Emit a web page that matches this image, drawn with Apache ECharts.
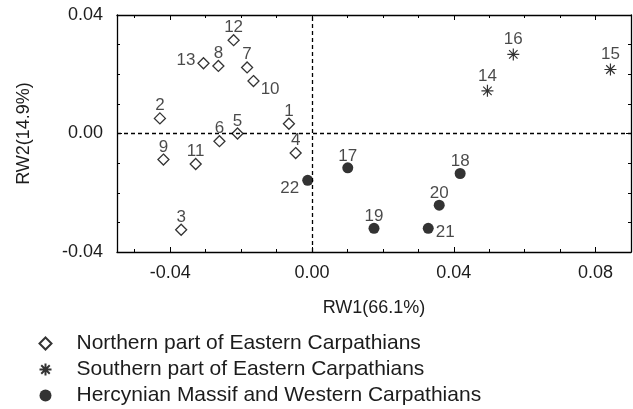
<!DOCTYPE html>
<html>
<head>
<meta charset="utf-8">
<script src="https://cdn.jsdelivr.net/npm/echarts@6/dist/echarts.min.js"></script>
<style>
  html, body { margin: 0; padding: 0; background: #fff; }
  #chart { width: 633px; height: 409px; }
</style>
</head>
<body>
<div id="chart"></div>
<script>
// Relative-warp scores (RW1 vs RW2) per population
const northNames = ['1','2','3','4','5','6','7','8','9','10','11','12','13'];
const northRW1 = [-0.0065, -0.0429, -0.0369, -0.0046, -0.0210, -0.0261, -0.0183, -0.0264, -0.0419, -0.0165, -0.0328, -0.0221, -0.0306];
const northRW2 = [0.0033, 0.0051, -0.0325, -0.0066, 0.0000, -0.0026, 0.0223, 0.0228, -0.0088, 0.0177, -0.0103, 0.0315, 0.0237];

const southNames = ['14','15','16'];
const southRW1 = [0.0495, 0.0842, 0.0568];
const southRW2 = [0.0144, 0.0216, 0.0267];

const hercNames = ['17','18','19','20','21','22'];
const hercRW1 = [0.0101, 0.0418, 0.0175, 0.0359, 0.0328, -0.0012];
const hercRW2 = [-0.0116, -0.0135, -0.0320, -0.0242, -0.0320, -0.0158];

const groupNames = [
  'Northern part of Eastern Carpathians',
  'Southern part of Eastern Carpathians',
  'Hercynian Massif and Western Carpathians'
];

// Axis ticks
const xMajor = [-0.04, 0.00, 0.04, 0.08];
const xMinor = [-0.05, -0.04, -0.03, -0.02, -0.01, 0.00, 0.01, 0.02, 0.03, 0.04, 0.05, 0.06, 0.07, 0.08, 0.09];
const yMajor = [-0.04, 0.00, 0.04];
const yMinor = [-0.04, -0.03, -0.02, -0.01, 0.00, 0.01, 0.02, 0.03, 0.04];

// Point-label placement (default: just above the marker)
const labelPlacement = {
  '13': { position: 'left', distance: 2, offset: [0, -3] },
  '10': { position: 'right', distance: 1, offset: [0, 8] },
  '22': { position: 'left', distance: 3, offset: [0, 8] },
  '21': { position: 'right', distance: 2, offset: [0, 4] }
};

const FONT = 'Liberation Sans, Arial, sans-serif';
const INK = '#1c1c1c';

function points(names, xs, ys) {
  return names.map((n, i) => {
    const item = { name: n, value: [xs[i], ys[i]] };
    if (labelPlacement[n]) item.label = labelPlacement[n];
    return item;
  });
}

const asterisk = 'path://M0,-10 L0,10 M-10,0 L10,0 M-7.07,-7.07 L7.07,7.07 M-7.07,7.07 L7.07,-7.07';

const X_MIN = -0.055, X_MAX = 0.09, Y_MIN = -0.04, Y_MAX = 0.04;

function xAxisDef(pos, ticks, len, withLabels, withLine) {
  return {
    type: 'value', position: pos, min: X_MIN, max: X_MAX,
    axisLine: { show: withLine, onZero: false, lineStyle: { color: '#000', width: 1.3 } },
    axisTick: { show: true, inside: true, length: len, customValues: ticks, lineStyle: { color: '#000', width: 1 } },
    axisLabel: withLabels ? {
      show: true, customValues: xMajor, margin: 12,
      formatter: v => v.toFixed(2), fontFamily: FONT, fontSize: 18, color: INK
    } : { show: false },
    splitLine: { show: false }
  };
}
function yAxisDef(pos, ticks, len, withLabels, withLine) {
  return {
    type: 'value', position: pos, min: Y_MIN, max: Y_MAX,
    axisLine: { show: withLine, onZero: false, lineStyle: { color: '#000', width: 1.3 } },
    axisTick: { show: true, inside: true, length: len, customValues: ticks, lineStyle: { color: '#000', width: 1 } },
    axisLabel: withLabels ? {
      show: true, customValues: yMajor, margin: 14,
      formatter: v => v.toFixed(2), fontFamily: FONT, fontSize: 18, color: INK
    } : { show: false },
    splitLine: { show: false }
  };
}

const xAxes = [
  xAxisDef('bottom', xMajor, 5, true, true),
  xAxisDef('bottom', xMinor, 3, false, false),
  xAxisDef('top', xMajor, 5, false, true),
  xAxisDef('top', xMinor, 3, false, false)
];
xAxes[0].name = 'RW1(66.1%)';
xAxes[0].nameLocation = 'middle';
xAxes[0].nameGap = 47;
xAxes[0].nameTextStyle = { fontFamily: FONT, fontSize: 18, color: INK };

const yAxes = [
  yAxisDef('left', yMajor, 5, true, true),
  yAxisDef('left', yMinor, 3, false, false),
  yAxisDef('right', yMajor, 5, false, true),
  yAxisDef('right', yMinor, 3, false, false)
];
yAxes[0].name = 'RW2(14.9%)';
yAxes[0].nameLocation = 'middle';
yAxes[0].nameGap = 84;
yAxes[0].nameTextStyle = { fontFamily: FONT, fontSize: 18, color: INK };

const pointLabel = {
  show: true, position: 'top', distance: -2,
  formatter: p => p.name, fontFamily: FONT, fontSize: 17, color: INK
};

const option = {
  animation: false,
  backgroundColor: '#fff',
  grid: { left: 117, right: 2, top: 15, bottom: 157, containLabel: false },
  xAxis: xAxes,
  yAxis: yAxes,
  legend: {
    orient: 'vertical', left: 37, top: 333, padding: 0,
    itemWidth: 12, itemHeight: 12, itemGap: 5,
    textStyle: { fontFamily: FONT, fontSize: 21, color: INK, lineHeight: 20, padding: [0, 0, 0, 20] },
    data: groupNames
  },
  series: [
    {
      name: groupNames[0], type: 'scatter', xAxisIndex: 0, yAxisIndex: 0,
      symbol: 'diamond', symbolSize: 11,
      itemStyle: { color: '#fff', borderColor: '#000', borderWidth: 1.3 },
      label: pointLabel,
      data: points(northNames, northRW1, northRW2),
      markLine: {
        silent: true, symbol: 'none', animation: false,
        label: { show: false },
        lineStyle: { color: '#000', type: [4, 3], width: 1.3 },
        data: [{ xAxis: 0 }, { yAxis: 0 }]
      },
      z: 3
    },
    {
      name: groupNames[1], type: 'scatter', xAxisIndex: 0, yAxisIndex: 0,
      symbol: asterisk, symbolSize: 12,
      itemStyle: { color: 'none', borderColor: '#000', borderWidth: 1.2 },
      label: pointLabel,
      data: points(southNames, southRW1, southRW2),
      z: 3
    },
    {
      name: groupNames[2], type: 'scatter', xAxisIndex: 0, yAxisIndex: 0,
      symbol: 'circle', symbolSize: 11,
      itemStyle: { color: '#000' },
      label: pointLabel,
      data: points(hercNames, hercRW1, hercRW2),
      z: 3
    }
  ]
};

const chart = echarts.init(document.getElementById('chart'), null, { renderer: 'canvas' });
chart.setOption(option);
</script>
</body>
</html>
